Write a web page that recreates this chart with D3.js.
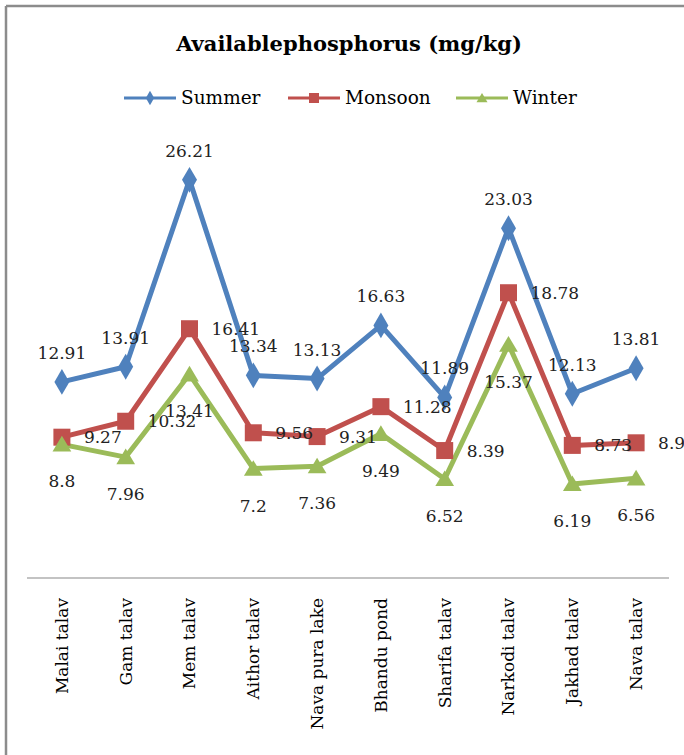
<!DOCTYPE html>
<html><head><meta charset="utf-8">
<script src="https://cdn.jsdelivr.net/npm/d3@7"></script>
<style>body{margin:0;background:#fff}svg{display:block}</style>
</head><body>
<script>
const categories = ["Malai talav","Gam talav","Mem talav","Aithor talav","Nava pura lake","Bhandu pond","Sharifa talav","Narkodi talav","Jakhad talav","Nava talav"];
const summer  = [12.91,13.91,26.21,13.34,13.13,16.63,11.89,23.03,12.13,13.81];
const monsoon = [9.27,10.32,16.41,9.56,9.31,11.28,8.39,18.78,8.73,8.9];
const winter  = [8.8,7.96,13.41,7.2,7.36,9.49,6.52,15.37,6.19,6.56];
const seriesNames = ["Summer","Monsoon","Winter"];
const title = "Availablephosphorus (mg/kg)";

const W = 684, H = 755;
const svg = d3.select("body").append("svg").attr("width", W).attr("height", H);
const font = "'DejaVu Serif', serif";
const colors = ["#4F81BD","#C0504D","#9BBB59"];
const data = [summer, monsoon, winter];

// frame
svg.append("line").attr("x1",6).attr("x2",W).attr("y1",6).attr("y2",6).attr("stroke","#8c8c8c").attr("stroke-width",2.5);
svg.append("line").attr("x1",6).attr("x2",6).attr("y1",6).attr("y2",H).attr("stroke","#8c8c8c").attr("stroke-width",2.5);

const x = d3.scaleBand().domain(categories).range([30, 668]);
const y = d3.scaleLinear().domain([0, 30]).range([578, 122.3]);

// title
svg.append("text").attr("x", 349).attr("y", 51).attr("text-anchor","middle")
  .attr("font-family", font).attr("font-weight","bold").attr("font-size", 21).attr("fill","#000").text(title);

// axis
const ax = svg.append("g").attr("transform","translate(0,578)").call(d3.axisBottom(x).tickSize(0).tickPadding(0));
ax.select(".domain").attr("stroke","#888").attr("stroke-width",1.2).attr("d","M27,0H669");
ax.selectAll(".tick text").attr("font-family", font).attr("font-size", 17).attr("fill","#000")
  .attr("text-anchor","end").attr("transform","rotate(-90)").attr("x",-20).attr("y",0).attr("dy","0.35em");

const cx = c => x(c) + x.bandwidth()/2;

function marker(g, i, s) {
  if (i === 0) g.append("path").attr("d", d3.symbol(d3.symbolDiamond, s*s*0.6)).attr("fill", colors[0]);
  else if (i === 1) g.append("rect").attr("x",-s/2).attr("y",-s/2).attr("width",s).attr("height",s).attr("fill", colors[1]);
  else g.append("path").attr("d", `M0,${-s*0.5}L${s*0.55},${s*0.42}L${-s*0.55},${s*0.42}Z`).attr("fill", colors[2]);
}

data.forEach((vals, i) => {
  const line = d3.line().x((d, j) => cx(categories[j])).y(d => y(d));
  svg.append("path").datum(vals).attr("d", line).attr("fill","none")
    .attr("stroke", colors[i]).attr("stroke-width", 5).attr("stroke-linejoin","round");
});
data.forEach((vals, i) => {
  vals.forEach((v, j) => {
    const g = svg.append("g").attr("transform", `translate(${cx(categories[j])},${y(v)})`);
    marker(g, i, i === 0 ? 18 : 17);
  });
});
// labels
data.forEach((vals, i) => {
  vals.forEach((v, j) => {
    const px = cx(categories[j]), py = y(v);
    const t = svg.append("text").attr("font-family", font).attr("font-size", 17).attr("fill","#222").text(v);
    if (i === 0) t.attr("x", px).attr("y", py - 23).attr("text-anchor","middle");
    else if (i === 1) t.attr("x", px + 22).attr("y", py + 6).attr("text-anchor","start");
    else t.attr("x", px).attr("y", py + 43).attr("text-anchor","middle");
  });
});

// legend
const legendX = [124, 288, 456];
seriesNames.forEach((n, i) => {
  const g = svg.append("g").attr("transform", `translate(${legendX[i]},98)`);
  g.append("line").attr("x1",0).attr("x2",52).attr("stroke",colors[i]).attr("stroke-width",3);
  const m = g.append("g").attr("transform","translate(26,0)");
  marker(m, i, 10);
  g.append("text").attr("x",57).attr("y",6).attr("font-family",font).attr("font-size",18.5).attr("fill","#000").text(n);
});
</script>
</body></html>
